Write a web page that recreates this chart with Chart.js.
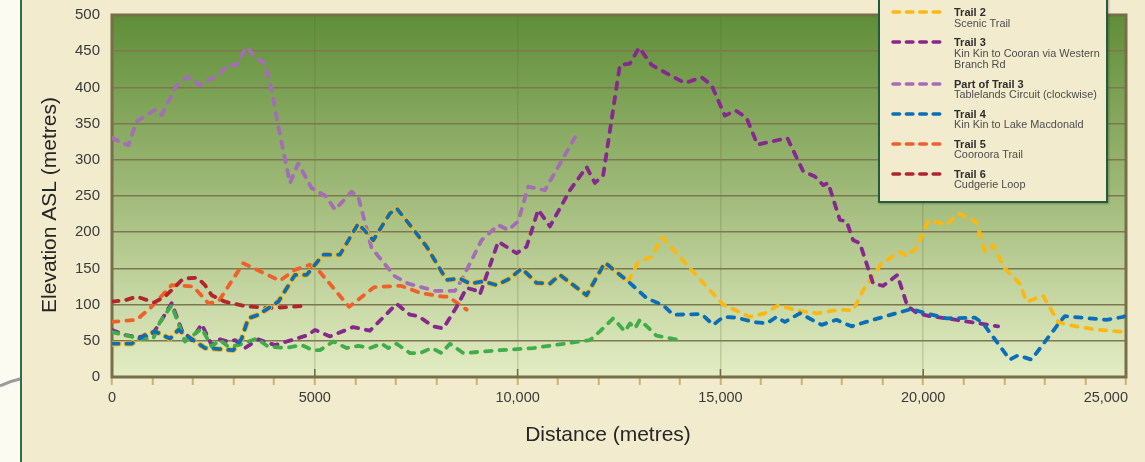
<!DOCTYPE html>
<html>
<head>
<meta charset="utf-8">
<script src="https://cdn.jsdelivr.net/npm/chart.js@4.4.0/dist/chart.umd.min.js"></script>
<style>
  body { margin: 0; background: #f3ebcd; overflow: hidden; }
  #wrap { position: relative; width: 1145px; height: 462px; overflow: hidden; }
  #legendBox { position: absolute; left: 878px; top: -40px; width: 226px; height: 239px;
    border: 2px solid #245a3e; background: #f3ebcd; box-shadow: 1px 1px 2px rgba(0,0,0,0.25); }
  .lg { position: absolute; font-family: 'Liberation Sans', Arial, sans-serif; white-space: pre; }
  .lg.t { font-weight: bold; font-size: 11px; line-height: 12px; color: #2e2e2e; }
  .lg.s { font-size: 10.9px; line-height: 11.3px; color: #4d4d4d; }
  .lg.k { line-height: 0; }
</style>
</head>
<body>
<div id="wrap">
  <canvas id="elevChart" width="1145" height="462"></canvas>
  <div id="legendBox"></div>
</div>
<script>
// Elevation profiles, distance (m) vs elevation ASL (m)
const t1Dist = [0, 320, 648, 1018, 1183, 1471, 1800, 2211, 2458, 2662, 2867, 3113, 3567, 3853, 4264, 4676, 4962, 5127, 5455, 5785, 6072, 6360, 6648, 6812, 7018, 7346, 7592, 7881, 8127, 8332, 8660, 9564, 10386, 11783, 12029, 12357, 12645, 12769, 12892, 13015, 13426, 14000];
const t1Elev = [62, 58, 53, 53, 76, 99, 49, 67, 42, 51, 42, 44, 53, 42, 40, 44, 37, 37, 49, 40, 43, 40, 46, 40, 46, 33, 33, 40, 33, 46, 33, 37, 40, 51, 63, 81, 63, 74, 67, 79, 57, 51];

const t2Dist = [0, 486, 813, 1060, 1430, 1634, 2292, 2991, 3197, 3360, 3607, 4100, 4511, 4799, 5209, 5620, 6072, 6441, 6853, 7018, 7346, 7757, 8250, 8578, 8825, 9153, 9482, 9811, 10098, 10467, 10797, 11043, 11701, 12152, 12727, 12973, 13304, 13565, 14000, 14494, 15069, 15727, 16097, 16425, 16961, 17372, 17945, 18273, 18520, 18972, 19424, 19589, 19835, 20122, 20328, 20574, 20862, 21314, 21519, 21724, 22012, 22382, 22547, 22958, 23327, 23573, 24190, 25000];
const t2Elev = [46, 46, 58, 63, 53, 65, 40, 37, 53, 81, 86, 104, 141, 141, 169, 169, 212, 189, 226, 233, 210, 180, 134, 136, 129, 132, 127, 136, 150, 130, 129, 141, 113, 158, 132, 159, 166, 193, 166, 135, 100, 83, 88, 99, 91, 88, 93, 92, 120, 157, 173, 167, 178, 216, 214, 210, 226, 214, 173, 182, 150, 129, 104, 112, 76, 72, 66, 62];
const t2Shared = 12727; // Trail 2 follows Trail 4 up to here

const t3Dist = [0, 320, 648, 978, 1225, 1471, 1718, 1964, 2211, 2458, 2662, 2867, 3032, 3278, 3607, 4018, 4429, 4839, 5004, 5374, 5948, 6360, 7018, 7346, 7551, 7921, 8167, 8497, 8743, 8948, 9071, 9523, 9976, 10222, 10508, 10797, 11290, 11701, 11906, 12111, 12522, 12769, 12998, 13304, 13590, 14124, 14535, 14782, 15110, 15378, 15645, 15912, 16651, 17041, 17329, 17534, 17657, 17945, 18110, 18273, 18438, 18766, 19013, 19363, 19610, 19855, 20163, 20574, 21025, 21396, 21847];
const t3Elev = [65, 58, 55, 57, 79, 102, 65, 51, 73, 44, 52, 49, 51, 40, 52, 44, 51, 58, 65, 56, 69, 64, 101, 86, 84, 70, 67, 97, 123, 120, 114, 187, 171, 180, 231, 208, 258, 290, 268, 279, 431, 433, 455, 431, 422, 406, 414, 403, 361, 368, 358, 321, 330, 284, 277, 265, 268, 217, 215, 189, 185, 129, 126, 141, 98, 88, 84, 81, 77, 74, 70];

const p3Dist = [0, 402, 608, 1060, 1225, 1594, 1881, 2169, 2662, 2867, 3073, 3320, 3525, 3771, 3937, 4100, 4388, 4592, 4922, 5292, 5497, 5908, 6071, 6401, 6976, 7304, 7962, 8455, 8620, 9113, 9523, 9769, 10015, 10262, 10673, 11413, 11618];
const p3Elev = [330, 320, 353, 369, 362, 403, 415, 403, 419, 431, 431, 456, 442, 433, 396, 346, 268, 295, 261, 249, 231, 256, 249, 178, 139, 129, 119, 119, 134, 189, 210, 203, 215, 263, 258, 331, 331];

const t4Dist = [0, 486, 813, 1060, 1430, 1634, 2292, 2991, 3197, 3360, 3607, 4100, 4511, 4799, 5209, 5620, 6072, 6441, 6853, 7018, 7346, 7757, 8250, 8578, 8825, 9153, 9482, 9811, 10098, 10467, 10797, 11043, 11701, 12152, 12727, 13180, 13590, 13836, 14535, 14823, 15069, 15399, 15809, 16138, 16384, 16590, 16961, 17494, 17863, 18233, 18766, 19712, 19999, 20574, 21273, 21478, 22136, 22341, 22670, 23368, 23491, 24519, 24930, 25000];
const t4Elev = [46, 46, 58, 63, 53, 65, 40, 37, 53, 81, 86, 104, 141, 141, 169, 169, 212, 189, 226, 233, 210, 180, 134, 136, 129, 132, 127, 136, 150, 130, 129, 141, 113, 158, 132, 109, 99, 86, 87, 72, 83, 82, 76, 74, 83, 76, 88, 72, 79, 70, 79, 94, 89, 81, 82, 74, 24, 30, 24, 76, 84, 79, 83, 85];

const t5Dist = [0, 608, 978, 1471, 2004, 2374, 2620, 3237, 4141, 4511, 4881, 5127, 5846, 6462, 7120, 7613, 8147, 8290, 8743];
const t5Elev = [76, 79, 97, 127, 125, 102, 104, 157, 133, 148, 155, 145, 97, 124, 126, 116, 111, 111, 93];

const t6Dist = [0, 320, 608, 1039, 1306, 1758, 2107, 2292, 2458, 2785, 3278, 3853, 4676];
const t6Elev = [104, 106, 111, 103, 111, 136, 137, 127, 113, 104, 98, 95, 98];

const trailTitles = ['Trail 1', 'Trail 2', 'Trail 3', 'Part of Trail 3', 'Trail 4', 'Trail 5', 'Trail 6'];
const trailNotes = ['Pomona to Kin Kin (one way)', 'Scenic Trail', 'Kin Kin to Cooran via Western\nBranch Rd', 'Tablelands Circuit (clockwise)', 'Kin Kin to Lake Macdonald', 'Cooroora Trail', 'Cudgerie Loop'];
const trailColors = ['#3fae49', '#fbb813', '#86288e', '#a56db6', '#0a6fb8', '#f0602a', '#b3242e'];

const yTicks = [0, 50, 100, 150, 200, 250, 300, 350, 400, 450, 500];
const xLabelEvery = 5000;
const xMax = 25000;
const xTitle = 'Distance (metres)';
const yTitle = 'Elevation ASL (metres)';

const FONT = "'Liberation Sans', Arial, sans-serif";

function pts(xs, ys) {
    return xs.map((x, i) => ({ x: x, y: ys[i] }));
}

function fmtDist(v) {
    return v >= 10000 ? v.toLocaleString('en-US') : String(v);
}

function lineSet(i, xs, ys, order) {
    return {
        label: trailTitles[i],
        data: pts(xs, ys),
        borderColor: trailColors[i],
        borderWidth: 3.8,
        borderDash: [6.5, 8],
        borderCapStyle: 'round',
        borderJoinStyle: 'round',
        pointRadius: 0,
        tension: 0,
        fill: false,
        order: order
    };
}

const t2Set = lineSet(1, t2Dist, t2Elev, 4);
t2Set.segment = {
    borderWidth: ctx => ctx.p1.parsed.x <= t2Shared ? 5.6 : 3.8
};

// background, plot fill, frame and titles
const decor = {
    id: 'decor',
    beforeDraw(chart) {
        const c = chart.ctx, a = chart.chartArea;
        c.save();
        c.fillStyle = '#f3ebcd';
        c.fillRect(0, 0, chart.width, chart.height);
        c.fillStyle = '#fcfbf1';
        c.fillRect(0, 0, 20, chart.height);
        c.strokeStyle = '#2e6b4f';
        c.lineWidth = 2;
        c.beginPath(); c.moveTo(21, 0); c.lineTo(21, chart.height); c.stroke();
        c.strokeStyle = '#9b9b9b';
        c.lineWidth = 3;
        c.beginPath(); c.moveTo(0, 386); c.quadraticCurveTo(10, 381, 20, 379); c.stroke();
        const g = c.createLinearGradient(0, a.top, 0, a.bottom);
        g.addColorStop(0, '#5f8e38');
        g.addColorStop(0.45, '#9ab673');
        g.addColorStop(1, '#e4edc4');
        c.fillStyle = g;
        c.fillRect(a.left, a.top, a.right - a.left, a.bottom - a.top);
        c.restore();
    },
    beforeDatasetsDraw(chart) {
        const c = chart.ctx, a = chart.chartArea, xs = chart.scales.x;
        c.save();
        c.strokeStyle = '#6f6a44';
        c.lineWidth = 1.5;
        for (let v = xLabelEvery; v < xs.max; v += xLabelEvery) {
            const px = xs.getPixelForValue(v);
            c.beginPath(); c.moveTo(px, a.bottom - 8); c.lineTo(px, a.bottom); c.stroke();
        }
        c.strokeStyle = '#766f48';
        c.lineWidth = 3;
        c.strokeRect(a.left, a.top, a.right - a.left, a.bottom - a.top);
        c.restore();
    },
    afterDraw(chart) {
        const c = chart.ctx, a = chart.chartArea;
        c.save();
        // last distance label sits inside the frame, right-aligned
        c.fillStyle = '#3a3a3a';
        c.font = '14.5px ' + FONT;
        c.textAlign = 'right';
        c.textBaseline = 'middle';
        c.fillText(fmtDist(xMax), a.right + 2, 398);
        c.fillStyle = '#262626';
        c.font = '21px ' + FONT;
        c.textAlign = 'center';
        c.fillText(xTitle, 608, 435);
        c.translate(50, 205);
        c.rotate(-Math.PI / 2);
        c.fillText(yTitle, 0, 0);
        c.restore();
    }
};

Chart.defaults.font.family = FONT;

new Chart(document.getElementById('elevChart').getContext('2d'), {
    type: 'line',
    data: {
        datasets: [
            lineSet(0, t1Dist, t1Elev, 2),
            t2Set,
            lineSet(2, t3Dist, t3Elev, 3),
            lineSet(3, p3Dist, p3Elev, 7),
            lineSet(4, t4Dist, t4Elev, 1),
            lineSet(5, t5Dist, t5Elev, 6),
            lineSet(6, t6Dist, t6Elev, 5)
        ]
    },
    options: {
        responsive: false,
        animation: false,
        devicePixelRatio: 1,
        layout: { padding: { top: 15, right: 19, left: 0, bottom: 0 } },
        plugins: { legend: { display: false }, tooltip: { enabled: false } },
        scales: {
            x: {
                type: 'linear',
                min: 0,
                max: xMax,
                border: { display: false },
                grid: {
                    color: c => (c.tick && c.tick.value % xLabelEvery === 0 && c.tick.value > 0 && c.tick.value < xMax) ? 'rgba(90,105,45,0.22)' : 'rgba(0,0,0,0)',
                    tickColor: '#cbb36c',
                    tickLength: 8,
                    tickWidth: 2,
                    lineWidth: 1.5
                },
                ticks: {
                    stepSize: 1000,
                    maxTicksLimit: 40,
                    autoSkip: false,
                    maxRotation: 0,
                    padding: 4,
                    color: '#3a3a3a',
                    font: { size: 14.5 },
                    callback: v => (v % xLabelEvery || v === xMax) ? '' : fmtDist(v)
                },
                afterFit(s) {
                    s.height = 85;
                    s.paddingLeft = 0; s.paddingRight = 0;
                }
            },
            y: {
                min: 0,
                max: 500,
                border: { display: false },
                afterBuildTicks(s) { s.ticks = yTicks.map(v => ({ value: v })); },
                grid: { color: '#7e7850', lineWidth: 1.5, drawTicks: false },
                ticks: { padding: 12, color: '#3a3a3a', font: { size: 15 } },
                afterFit(s) {
                    s.width = 112;
                    s.paddingTop = 0; s.paddingBottom = 0;
                }
            }
        }
    },
    plugins: [decor]
});

// legend, drawn as html over the canvas
const wrap = document.getElementById('wrap');
let cy = 12.3 - 30;
trailTitles.forEach((title, i) => {
    const key = document.createElement('div');
    key.className = 'lg k';
    key.style.left = '889px';
    key.style.top = (cy - 4) + 'px';
    key.innerHTML = '<svg width="56" height="8"><line x1="4" y1="4" x2="52" y2="4" stroke="' + trailColors[i] +
        '" stroke-width="3.6" stroke-linecap="round" stroke-dasharray="6.5 6.9"/></svg>';
    wrap.appendChild(key);

    const t = document.createElement('div');
    t.className = 'lg t';
    t.style.left = '954px';
    t.style.top = (cy - 6) + 'px';
    t.textContent = title;
    wrap.appendChild(t);

    const lines = trailNotes[i].split('\n');
    const s = document.createElement('div');
    s.className = 'lg s';
    s.style.left = '954px';
    s.style.top = (cy + 11 - 5.65) + 'px';
    s.textContent = trailNotes[i];
    wrap.appendChild(s);

    cy = cy + 11 + (lines.length - 1) * 11.3 + 19;
});
</script>
</body>
</html>
